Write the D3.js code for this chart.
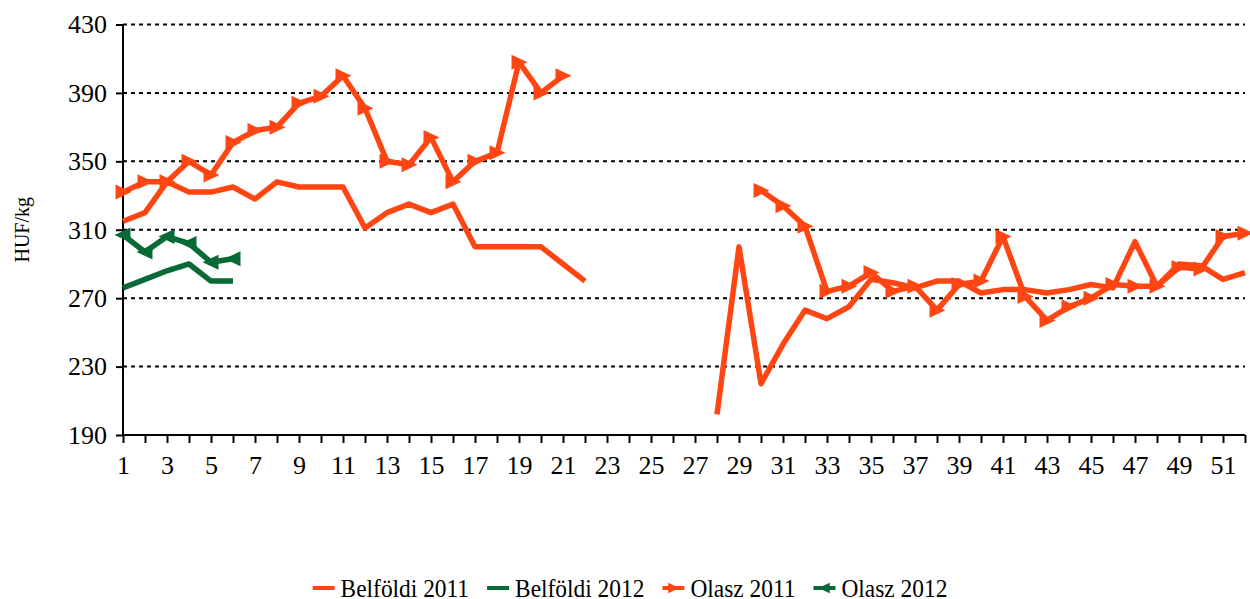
<!DOCTYPE html>
<html>
<head>
<meta charset="utf-8">
<script src="https://cdn.jsdelivr.net/npm/d3@7"></script>
<style>
  body { margin: 0; background: #fff; }
  text { font-family: "Liberation Serif", "Times New Roman", serif; fill: #000; }
</style>
</head>
<body>
<svg id="chart" width="1250" height="599"></svg>
<script>
// weekly prices, HUF/kg (null = no quote that week)
var weeks = d3.range(1, 53);
var yTicks = [190, 230, 270, 310, 350, 390, 430];

var belfoldi2011 = [315, 320, 338, 332, 332, 335, 328, 338, 335, 335, 335, 311, 320, 325, 320, 325, 300, 300, 300, 300, 290, 280,
  null, null, null, null, null,
  202, 300, 220, 243, 263, 258, 265, 281, 279, 276, 280, 280, 273, 275, 275, 273, 275, 278, 276, 303, 277, 290, 289, 281, 285];
var belfoldi2012 = [276, 281, 286, 290, 280, 280];
var olasz2011 = [332, 338, 338, 350, 342, 361, 368, 370, 384, 388, 400, 381, 350, 348, 364, 338, 350, 355, 408, 390, 400,
  null, null, null, null, null, null, null, null,
  333, 324, 312, 274, 277, 285, 274, 277, 263, 278, 280, 306, 271, 257, 265, 270, 278, 277, 277, 288, 287, 306, 308];
var olasz2012 = [307, 297, 306, 302, 291, 293];

var orange = "#ff4612", green = "#086b36";

var series = [
  {name: "Belföldi 2011", values: belfoldi2011, color: orange, marker: null},
  {name: "Belföldi 2012", values: belfoldi2012, color: green, marker: null},
  {name: "Olasz 2011", values: olasz2011, color: orange, marker: "right"},
  {name: "Olasz 2012", values: olasz2012, color: green, marker: "left"}
];

var markerPath = {
  right: "M-7.5,-7.5L8.5,0L-7.5,7.5Z",
  left: "M7.5,-7.5L-8.5,0L7.5,7.5Z"
};

var svg = d3.select("#chart");

var x = d3.scaleLinear().domain([1, 52]).range([123, 1245]);
var y = d3.scaleLinear().domain([190, 430]).range([435, 24.5]);

// dotted gridlines
svg.append("g")
  .selectAll("line")
  .data(yTicks.filter(d => d > 190))
  .enter().append("line")
    .attr("x1", x(1)).attr("x2", x(52))
    .attr("y1", d => y(d)).attr("y2", d => y(d))
    .attr("stroke", "#000")
    .attr("stroke-width", 2)
    .attr("stroke-dasharray", "4,4");

// axes
var yAxis = svg.append("g")
  .attr("transform", "translate(" + x(1) + ",0)")
  .call(d3.axisLeft(y).tickValues(yTicks).tickSize(7).tickPadding(9));

var xAxis = svg.append("g")
  .attr("transform", "translate(0," + y(190) + ")")
  .call(d3.axisBottom(x).tickValues(weeks).tickFormat(d => d % 2 ? d : "").tickSize(8).tickPadding(13));

[yAxis, xAxis].forEach(g => {
  g.attr("font-size", null).attr("font-family", null);
  g.select(".domain").attr("stroke", "#000").attr("stroke-width", 2);
  g.selectAll(".tick line").attr("stroke", "#000").attr("stroke-width", 2);
  g.selectAll(".tick text").style("font-size", "26px");
});
yAxis.select(".domain").attr("d", "M0," + y(430) + "V" + y(190));
xAxis.select(".domain").attr("d", "M" + x(1) + ",0H" + x(52));

svg.append("text")
  .attr("transform", "translate(29," + y(310) + ") rotate(-90)")
  .attr("text-anchor", "middle")
  .style("font-size", "20px")
  .text("HUF/kg");

// lines
var line = d3.line()
  .defined(d => d != null)
  .x((d, i) => x(weeks[i]))
  .y(d => y(d));

var plot = svg.append("g");

series.forEach(s => {
  plot.append("path")
    .datum(s.values)
    .attr("fill", "none")
    .attr("stroke", s.color)
    .attr("stroke-width", 5.5)
    .attr("stroke-linejoin", "round")
    .attr("d", line);

  if (s.marker) {
    plot.append("g")
      .selectAll("path")
      .data(s.values.map((v, i) => ({week: weeks[i], v: v})).filter(d => d.v != null))
      .enter().append("path")
        .attr("transform", d => "translate(" + x(d.week) + "," + y(d.v) + ")")
        .attr("d", markerPath[s.marker])
        .attr("fill", s.color);
  }
});

// legend (text slightly condensed like the original)
var legend = svg.append("g");
var lx = 0;
series.forEach(s => {
  var item = legend.append("g").attr("transform", "translate(" + lx + ",0)");
  item.append("line")
    .attr("x1", 0).attr("x2", 22)
    .attr("stroke", s.color).attr("stroke-width", 4);
  if (s.marker) {
    item.append("path")
      .attr("transform", "translate(11,0) scale(0.7)")
      .attr("d", markerPath[s.marker])
      .attr("fill", s.color);
  }
  var t = item.append("text")
    .attr("x", 28).attr("dy", "0.33em")
    .style("font-size", "26px")
    .text(s.name);
  var w = t.node().getComputedTextLength() * 0.9;
  t.attr("textLength", w).attr("lengthAdjust", "spacingAndGlyphs");
  lx += 28 + w + 18;
});
lx -= 18;
legend.attr("transform", "translate(" + (630 - lx / 2) + ",588)");
</script>
</body>
</html>
